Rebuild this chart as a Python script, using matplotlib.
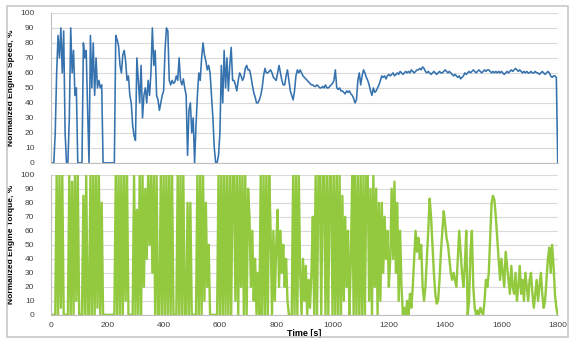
import numpy as np
import matplotlib
matplotlib.use("Agg")
import matplotlib.pyplot as plt
from matplotlib.patches import Rectangle

plt.rcParams['font.family'] = ['Liberation Sans', 'DejaVu Sans']

# sample step of the traces, seconds
step = 5

# normalized engine speed, % (every 5 s)
speed = [
    0, 0, 0, 20,                          # 0-15
    60, 85, 70, 90, 60, 88,               # 20-45
    20, 0, 0,                             # 50-60
    30, 90, 60, 75, 45, 50, 0,            # 65-95
    0, 0, 0,                              # 100-110
    80, 70, 75, 35,                       # 115-130
    0,                                    # 135
    85, 50, 80, 45, 70, 50, 55, 50, 52,   # 140-180
    0, 0, 0, 0, 0, 0, 0, 0, 0,            # 185-225
    85, 82, 78, 65, 60, 72, 75, 68, 55, 58,   # 230-275
    45, 40, 25,                           # 280-290
    18, 15, 70, 55, 40, 65,               # 295-320
    30, 45, 50, 40, 55, 45, 60, 90, 65, 75, 45,   # 325-375
    42, 35,                               # 380-385
    40, 45, 48, 75, 90, 88, 55, 52, 55, 53,   # 390-435
    54, 58,                               # 440-445
    55, 70, 55, 52, 56, 50,               # 450-475
    45,                                   # 480
    5, 35, 40, 20,                        # 485-500
    30, 0, 25,                            # 505-515
    45, 60, 55, 70, 80, 72, 68, 62, 65, 60,   # 520-565
    45, 30, 10, 0, 0,                     # 570-590
    5, 20, 65, 40, 75, 50, 70, 48, 65, 77, 55,    # 595-645
    55, 52, 48, 55, 60, 58, 55, 57, 63, 65, 62,   # 650-700
    62, 58, 52, 47, 44, 40, 40,           # 705-735
    42,                                   # 740
    45, 50, 58, 63, 60, 60, 61,           # 745-775
    62, 60, 57, 56, 55,                   # 780-800
    60, 65, 60, 55, 52, 52, 58, 62,       # 805-840
    55, 48, 45,                           # 845-855
    42, 48, 58, 62, 60,                   # 860-880
    62, 60, 58, 57, 56, 55, 54, 53, 52,   # 885-925
    52, 51, 51, 52,                       # 930-945
    51, 50, 50, 51, 50, 52, 50, 50, 51,   # 950-990
    52, 53, 55, 62, 50, 49, 50, 48,       # 995-1030
    48, 47, 46, 48, 47, 48, 46,           # 1035-1065
    45, 43, 40, 42, 55, 60, 52, 58, 62, 60, 57,   # 1070-1120
    55, 52, 48, 45, 50, 47, 48, 50, 52, 55,   # 1125-1170
    58, 57, 58, 56, 58, 59,               # 1175-1200
    58, 59, 60, 58, 59, 60, 59, 61,       # 1205-1240
    60, 59, 60, 61,                       # 1245-1260
    60, 61, 60, 62, 61, 60, 61, 62,       # 1265-1300
    62, 63, 62, 64, 63, 61,               # 1305-1330
    60, 61, 60, 59, 60, 61, 60, 59,       # 1335-1370
    60, 61, 60, 60, 61, 62,               # 1375-1400
    61, 60, 61, 60, 59, 58, 59, 58,       # 1405-1440
    57, 58, 56, 57, 58, 60, 59,           # 1445-1475
    60, 61, 60, 61, 62,                   # 1480-1500
    61, 60, 61, 62, 61, 60,               # 1505-1530
    61, 62, 61, 62, 62, 61, 60,           # 1535-1565
    61, 60, 61, 60, 61,                   # 1570-1590
    60, 61, 60, 59, 60, 61, 60, 61,       # 1595-1630
    62, 61, 62, 63, 62, 61, 62, 61,       # 1635-1670
    60, 61, 60, 61, 60, 60, 61, 60,       # 1675-1710
    60, 61, 60, 60, 59, 60, 61, 60,       # 1715-1750
    59, 60, 61, 60, 58, 57, 58, 58, 57, 0,    # 1755-1800
]

# normalized engine torque, % (every 5 s)
torque = [
    0, 0, 0, 0,                           # 0-15
    100, 0, 100, 5, 100, 0,               # 20-45
    0, 0, 0,                              # 50-60
    100, 0, 95, 0, 100, 10, 100,          # 65-95
    0, 0, 0,                              # 100-110
    85, 0, 100, 0,                        # 115-130
    0,                                    # 135
    100, 0, 100, 0, 100, 5, 100, 0, 80,   # 140-180
    0, 0, 0, 0, 0, 0, 0, 0, 0,            # 185-225
    100, 0, 100, 0, 100, 0, 100, 10, 100, 0,  # 230-275
    0, 0, 0,                              # 280-290
    100, 0, 75, 0, 100, 0,                # 295-320
    100, 20, 90, 40, 100, 50, 100, 30, 100, 0, 100,   # 325-375
    0, 0,                                 # 380-385
    100, 0, 100, 0, 100, 0, 100, 0, 100, 0,   # 390-435
    0, 0,                                 # 440-445
    100, 0, 100, 0, 100, 0,               # 450-475
    0,                                    # 480
    80, 0, 80, 0,                         # 485-500
    0, 0, 0,                              # 505-515
    100, 0, 100, 0, 100, 10, 80, 20, 50, 0,   # 520-565
    0, 0, 0, 0, 0,                        # 570-590
    100, 0, 100, 0, 100, 0, 100, 0, 100, 0, 100,  # 595-645
    100, 10, 100, 0, 100, 20, 100, 0, 100, 0, 90,  # 650-700
    70, 20, 60, 10, 40, 0, 30,            # 705-735
    0,                                    # 740
    100, 0, 100, 0, 100, 0, 100,          # 745-775
    60, 0, 60, 10, 50,                    # 780-800
    75, 20, 60, 30, 50, 20, 40, 10,       # 805-840
    0, 0, 0,                              # 845-855
    100, 0, 100, 0, 100,                  # 860-880
    30, 0, 40, 10, 35, 0, 25, 5, 30,      # 885-925
    70, 0, 100, 0,                        # 930-945
    100, 100, 0, 100, 100, 0, 100, 0, 100,    # 950-990
    100, 0, 100, 0, 100, 0, 100, 0,       # 995-1030
    85, 10, 70, 20, 60, 0, 40,            # 1035-1065
    100, 0, 100, 0, 100, 0, 100, 0, 100, 0, 100,  # 1070-1120
    100, 10, 90, 0, 100, 20, 90, 0, 80, 10,   # 1125-1170
    80, 30, 70, 40, 60, 20,               # 1175-1200
    40, 90, 40, 95, 30, 80, 10, 60,       # 1205-1240
    20, 0, 5, 0,                          # 1245-1260
    10, 0, 15, 5, 20, 40, 60, 45,         # 1265-1300
    55, 40, 50, 20, 10, 20,               # 1305-1330
    40, 60, 83, 70, 50, 30, 15, 8,        # 1335-1370
    10, 25, 45, 60, 74, 65,               # 1375-1400
    55, 50, 40, 30, 25, 30, 25, 20,       # 1405-1440
    40, 60, 45, 30, 20, 35, 60,           # 1445-1475
    0, 10, 45, 60, 20,                    # 1480-1500
    5, 0, 3, 0, 5, 2,                     # 1505-1530
    0, 10, 25, 20, 30, 55, 80,            # 1535-1565
    85, 82, 70, 55, 40,                   # 1570-1590
    25, 40, 30, 20, 45, 35, 25, 15,       # 1595-1630
    35, 20, 15, 30, 10, 20, 35, 15,       # 1635-1670
    25, 10, 30, 20, 10, 25, 30, 15,       # 1675-1710
    5, 15, 25, 10, 20, 30, 15, 5,         # 1715-1750
    10, 25, 40, 48, 30, 50, 35, 15, 5, 0,     # 1755-1800
]

time_s = np.arange(len(speed)) * step
time_t = np.arange(len(torque)) * step

y_ticks = list(range(0, 101, 10))
x_ticks = list(range(0, 1801, 200))

fig = plt.figure(figsize=(5.7, 3.4), dpi=100)
fig.patches.append(Rectangle((0.012, 0.008), 0.985, 0.975, transform=fig.transFigure,
                             fill=False, edgecolor='#c8c8c8', linewidth=1.2))

ax1 = fig.add_axes([0.0895, 0.521, 0.889, 0.441])
ax2 = fig.add_axes([0.0895, 0.074, 0.889, 0.412])

ax1.plot(time_s, speed, color='#3572ae', linewidth=1.15)
ax2.plot(time_t, torque, color='#92c93e', linewidth=1.7)

for ax in (ax1, ax2):
    ax.set_xlim(0, 1800)
    ax.set_ylim(0, 100)
    ax.set_yticks(y_ticks)
    ax.grid(axis='y', color='#d9d9d9', linewidth=0.8)
    ax.set_axisbelow(True)
    for s in ('top', 'right'):
        ax.spines[s].set_visible(False)
    for s in ('left', 'bottom'):
        ax.spines[s].set_color('#bfbfbf')
        ax.spines[s].set_linewidth(0.8)
    ax.tick_params(axis='y', length=0, pad=12, labelsize=6, labelcolor='#404040')

ax1.set_xticks(x_ticks)
ax1.tick_params(axis='x', length=0, labelbottom=False)
ax2.set_xticks(x_ticks)
ax2.tick_params(axis='x', length=0, pad=5, labelsize=6, labelcolor='#404040')

ax1.set_ylabel("Normalized Engine Speed, %", fontsize=6, fontweight='bold', labelpad=4)
ax2.set_ylabel("Normalized Engine Torque, %", fontsize=6, fontweight='bold', labelpad=4)
ax2.set_xlabel("Time [s]", fontsize=6.5, fontweight='bold', labelpad=0)

fig.savefig("out.png", dpi=100)
